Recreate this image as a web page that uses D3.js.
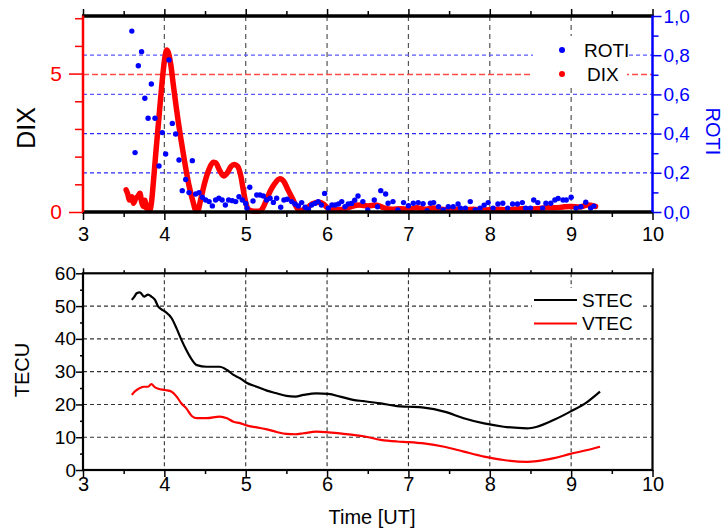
<!DOCTYPE html>
<html><head><meta charset="utf-8">
<script src="https://cdn.jsdelivr.net/npm/d3@7/dist/d3.min.js"></script>
<style>body{margin:0;background:#fff}svg{display:block;font-family:"Liberation Sans",Arial,sans-serif}</style>
</head><body><svg id="c" width="728" height="528"></svg>
<script>
const xTicks = [3,4,5,6,7,8,9,10];
const dixTicks = [0,5];
const rotiTicks = [0,0.2,0.4,0.6,0.8,1.0];
const tecTicks = [0,10,20,30,40,50,60];

const dixT = [3.53,3.55,3.57,3.60,3.62,3.65,3.67,3.70,3.72,3.74,3.76,3.78,3.80,3.82,3.84,3.86,3.88,3.90,3.93,3.96,3.99,4.01,4.03,4.05,4.08,4.11,4.15,4.20,4.25,4.30,4.35,4.39,4.41,4.45,4.50,4.55,4.60,4.63,4.68,4.73,4.77,4.82,4.86,4.90,4.94,4.97,5.00,5.04,5.10,5.16,5.20,5.25,5.30,5.35,5.42,5.47,5.52,5.58,5.63,5.68,5.75,5.82,5.90,5.96,6.02,6.10,6.20,6.30,6.40,6.50,6.60,6.70,6.80,6.90,7.00,7.10,7.20,7.30,7.40,7.50,7.60,7.70,7.80,7.90,8.00,8.10,8.20,8.30,8.40,8.50,8.60,8.70,8.80,8.90,9.00,9.10,9.20,9.30];
const dixV = [0.80,0.65,0.43,0.55,0.32,0.50,0.55,0.68,0.37,0.20,0.42,0.14,0.25,0.07,0.30,0.90,1.60,2.30,3.30,4.30,5.20,5.65,5.85,5.75,5.30,4.60,3.70,2.70,1.80,1.00,0.40,0.05,0.05,0.50,1.10,1.55,1.80,1.78,1.50,1.30,1.40,1.65,1.72,1.65,1.30,0.80,0.35,0.08,0.03,0.03,0.10,0.40,0.75,1.00,1.20,1.10,0.80,0.45,0.15,0.05,0.15,0.30,0.35,0.28,0.12,0.08,0.10,0.20,0.25,0.22,0.25,0.15,0.10,0.12,0.10,0.15,0.10,0.14,0.10,0.08,0.10,0.08,0.10,0.07,0.08,0.10,0.08,0.10,0.12,0.10,0.12,0.15,0.15,0.18,0.20,0.18,0.25,0.20];

const rotiT = [3.60,3.64,3.68,3.72,3.76,3.80,3.84,3.885,3.934,3.975,4.016,4.057,4.098,4.139,4.18,4.22,4.262,4.303,4.344,4.385,4.426,4.467,4.508,4.55,4.59,4.63,4.67,4.71,4.75,4.79,4.835,4.877,4.917,4.958,5.00,5.016,5.05,5.09,5.135,5.175,5.216,5.257,5.30,5.34,5.38,5.43,5.47,5.51,5.565,5.606,5.647,5.688,5.73,5.77,5.81,5.85,5.89,5.93,5.97,6.015,6.06,6.10,6.14,6.18,6.22,6.26,6.30,6.34,6.38,6.44,6.50,6.58,6.62,6.66,6.72,6.75,6.81,6.87,6.94,7.00,7.06,7.12,7.18,7.23,7.27,7.31,7.37,7.43,7.49,7.55,7.61,7.64,7.70,7.76,7.82,7.88,7.93,7.98,8.04,8.10,8.16,8.22,8.28,8.34,8.40,8.44,8.50,8.54,8.59,8.65,8.69,8.75,8.80,8.84,8.90,8.94,9.00,9.06,9.12,9.18,9.24,9.28];
const rotiV = [0.923,0.303,0.746,0.818,0.580,0.478,0.653,0.478,0.235,0.405,0.296,0.776,0.452,0.398,0.265,0.109,0.166,0.099,0.262,0.092,0.099,0.075,0.061,0.053,0.031,0.061,0.070,0.061,0.036,0.061,0.058,0.053,0.078,0.061,0.044,0.019,0.126,0.056,0.087,0.087,0.082,0.061,0.070,0.049,0.070,0.024,0.061,0.065,0.053,0.041,0.031,0.048,0.024,0.014,0.036,0.044,0.053,0.036,0.095,0.019,0.036,0.036,0.041,0.053,0.027,0.041,0.044,0.060,0.082,0.053,0.010,0.061,0.027,0.109,0.092,0.045,0.053,0.010,0.048,0.032,0.045,0.048,0.042,0.006,0.045,0.048,0.027,0.010,0.027,0.027,0.041,0.020,0.020,0.053,0.010,0.020,0.035,0.048,0.020,0.041,0.045,0.020,0.041,0.041,0.048,0.020,0.020,0.061,0.048,0.020,0.045,0.045,0.061,0.069,0.061,0.061,0.075,0.020,0.027,0.05,0.02,0.03];

const tecT = [3.60,3.63,3.66,3.70,3.75,3.80,3.84,3.885,3.925,4.01,4.09,4.15,4.21,4.27,4.34,4.40,4.52,4.68,4.77,4.85,4.93,5.01,5.135,5.26,5.38,5.50,5.61,5.71,5.87,6.015,6.16,6.32,6.45,6.66,6.86,7.00,7.19,7.44,7.68,7.93,8.17,8.46,8.58,8.79,8.99,9.20,9.355];
const stecV = [51.9,52.8,53.9,54.2,52.9,53.5,52.9,51.9,49.8,48.3,46.3,43.2,39.7,36.6,33.6,32.0,31.5,31.5,30.5,29.0,28.0,26.6,25.4,24.2,23.4,22.6,22.4,22.9,23.4,23.2,22.4,21.4,21.0,20.3,19.5,19.3,19.0,17.8,15.8,14.2,13.2,12.7,13.2,15.3,17.8,20.8,23.9];
const vtecV = [22.9,23.8,24.4,25.0,25.4,25.4,26.2,25.2,24.8,24.4,23.9,22.4,20.3,18.8,16.4,15.8,15.8,16.3,15.8,14.7,14.3,13.6,13.0,12.4,11.6,11.0,10.9,11.2,11.7,11.5,11.2,10.7,10.3,9.2,8.7,8.5,8.1,7.1,5.6,4.1,3.05,2.5,2.7,3.6,4.9,6.1,7.1];

const svg = d3.select("#c");
const L = 83, R = 652.5;
const x = d3.scaleLinear().domain([3,10]).range([L,R]);
const T1 = 16, B1 = 212;
const yD = d3.scaleLinear().domain([0,7.08]).range([B1,T1]);
const yR = d3.scaleLinear().domain([0,1]).range([B1,T1]);
const T2 = 273.3, B2 = 470;
const yT = d3.scaleLinear().domain([0,60]).range([B2,T2]);
const halfTicks = d3.range(3,10.01,0.5);

// ---------- TOP PANEL ----------
const g1 = svg.append("g");
g1.selectAll(".vg").data(xTicks.slice(1,-1)).join("line")
  .attr("x1",d=>x(d)).attr("x2",d=>x(d)).attr("y1",T1).attr("y2",B1)
  .attr("stroke","#555").attr("stroke-width",1.2).attr("stroke-dasharray","5,4");
g1.selectAll(".bg").data(rotiTicks.slice(1,-1)).join("line")
  .attr("x1",L).attr("x2",R).attr("y1",d=>yR(d)).attr("y2",d=>yR(d))
  .attr("stroke",d=>d<0.5?"#2a2aff":"#5a5aff").attr("stroke-width",1.3).attr("stroke-dasharray","4,3");
g1.append("line").attr("x1",L).attr("x2",R).attr("y1",Math.round(yD(5))+0.5).attr("y2",Math.round(yD(5))+0.5)
  .attr("stroke","#ff4a4a").attr("stroke-width",1.3).attr("stroke-dasharray","6,3");

g1.append("rect").attr("x",533).attr("y",36).attr("width",94).attr("height",50).attr("fill","#fff");

const dixData = dixT.map((t,i)=>[t,dixV[i]]);
g1.append("path").datum(dixData)
  .attr("d", d3.line().x(d=>x(d[0])).y(d=>yD(d[1])).curve(d3.curveMonotoneX))
  .attr("fill","none").attr("stroke","#ff0000").attr("stroke-width",5.5)
  .attr("stroke-linejoin","round").attr("stroke-linecap","round");
g1.selectAll(".roti").data(rotiT.map((t,i)=>[t,rotiV[i]])).join("circle")
  .attr("cx",d=>x(d[0])).attr("cy",d=>yR(d[1])).attr("r",2.7).attr("fill","#0000ff");

const bx1 = d3.axisBottom(x).tickValues(halfTicks).tickSize(6).tickFormat(d=>Number.isInteger(d)?d:"");
const ax1 = g1.append("g").attr("transform",`translate(0,${B1})`).call(bx1);
ax1.selectAll(".tick line").attr("stroke","#000").attr("stroke-width",1.5).attr("y2",d=>Number.isInteger(d)?8:5);
ax1.selectAll("text").attr("font-size",20).attr("fill","#000").attr("y",29).attr("dy",null);
ax1.select(".domain").remove();
const tx1 = d3.axisTop(x).tickValues(halfTicks).tickSize(6).tickFormat("");
const at1 = g1.append("g").attr("transform",`translate(0,${T1})`).call(tx1);
at1.selectAll(".tick line").attr("stroke","#000").attr("stroke-width",1.5).attr("y2",d=>Number.isInteger(d)?-7:-5);
at1.select(".domain").remove();
g1.append("line").attr("x1",L-1).attr("x2",R+1).attr("y1",B1).attr("y2",B1).attr("stroke","#000").attr("stroke-width",3.5);
g1.append("line").attr("x1",L-1).attr("x2",R+1).attr("y1",T1).attr("y2",T1).attr("stroke","#000").attr("stroke-width",3.5);

const lax = d3.axisLeft(yD).tickValues(d3.range(0,7.01,1)).tickSize(14).tickFormat(d=>dixTicks.includes(d)?d:"");
const al = g1.append("g").attr("transform",`translate(${L},0)`).call(lax);
al.select(".domain").remove();
al.selectAll(".tick line").attr("stroke","#ff0000").attr("stroke-width",1.5).attr("x2",d=>dixTicks.includes(d)?-14:-8);
al.selectAll("text").attr("font-size",21).attr("fill","#ff0000").attr("x",-21);
g1.append("line").attr("x1",L).attr("x2",L).attr("y1",T1-0.5).attr("y2",B1).attr("stroke","#ff0000").attr("stroke-width",2.5);

const rax = d3.axisRight(yR).tickValues(d3.range(0,1.001,0.1)).tickSize(8)
  .tickFormat(d=>{const r=Math.round(d*10); return r%2===0 ? (r/10).toFixed(1).replace(".",",") : "";});
const ar = g1.append("g").attr("transform",`translate(${R},0)`).call(rax);
ar.select(".domain").remove();
ar.selectAll(".tick line").attr("stroke","#0000ff").attr("stroke-width",1.5)
  .attr("x2",d=>Math.round(d*10)%2===0?9:6);
ar.selectAll("text").attr("font-size",19).attr("fill","#0000ff").attr("x",11);
g1.append("line").attr("x1",R).attr("x2",R).attr("y1",T1-0.5).attr("y2",B1).attr("stroke","#0000ff").attr("stroke-width",2.5);

svg.append("text").attr("transform","translate(35,128) rotate(-90)").attr("text-anchor","middle")
  .attr("font-size",25).attr("fill","#000").text("DIX");
svg.append("text").attr("transform","translate(706,131.5) rotate(90)").attr("text-anchor","middle")
  .attr("font-size",20).attr("fill","#0000ff").text("ROTI");

const leg1 = [{t:"ROTI",c:"#0000ff",y:50,tx:584},{t:"DIX",c:"#ff0000",y:74,tx:587}];
leg1.forEach(d=>{
  svg.append("circle").attr("cx",562).attr("cy",d.y).attr("r",3).attr("fill",d.c);
  svg.append("text").attr("x",d.tx).attr("y",d.y).attr("dy","0.36em").attr("font-size",19).attr("fill","#000").text(d.t);
});

// ---------- BOTTOM PANEL ----------
const g2 = svg.append("g");
g2.selectAll(".vg2").data(xTicks.slice(1,-1)).join("line")
  .attr("x1",d=>x(d)).attr("x2",d=>x(d)).attr("y1",T2).attr("y2",B2)
  .attr("stroke","#333").attr("stroke-width",1.1).attr("stroke-dasharray","4,3");
g2.selectAll(".hg2").data(tecTicks.slice(1,-1)).join("line")
  .attr("x1",L).attr("x2",R).attr("y1",d=>yT(d)).attr("y2",d=>yT(d))
  .attr("stroke","#333").attr("stroke-width",1.1).attr("stroke-dasharray","4,3");
g2.append("rect").attr("x",532).attr("y",288).attr("width",110).attr("height",48).attr("fill","#fff");

const lineT = d3.line().x(d=>x(d[0])).y(d=>yT(d[1])).curve(d3.curveMonotoneX);
g2.append("path").datum(tecT.map((t,i)=>[t,stecV[i]])).attr("d",lineT)
  .attr("fill","none").attr("stroke","#000").attr("stroke-width",2.2);
g2.append("path").datum(tecT.map((t,i)=>[t,vtecV[i]])).attr("d",lineT)
  .attr("fill","none").attr("stroke","#ff0000").attr("stroke-width",2.2);

const bx2 = d3.axisBottom(x).tickValues(halfTicks).tickSize(6).tickFormat(d=>Number.isInteger(d)?d:"");
const ab2 = g2.append("g").attr("transform",`translate(0,${B2})`).call(bx2);
ab2.select(".domain").remove();
ab2.selectAll(".tick line").attr("stroke","#000").attr("stroke-width",1.5).attr("y2",d=>Number.isInteger(d)?7:4);
ab2.selectAll("text").attr("font-size",20).attr("fill","#000").attr("y",21).attr("dy",null);
const tx2 = d3.axisTop(x).tickValues(halfTicks).tickSize(5).tickFormat("");
const at2 = g2.append("g").attr("transform",`translate(0,${T2})`).call(tx2);
at2.select(".domain").remove();
at2.selectAll(".tick line").attr("stroke","#000").attr("stroke-width",1.5).attr("y2",d=>Number.isInteger(d)?-5:-3);
const lax2 = d3.axisLeft(yT).tickValues(d3.range(0,60.1,5)).tickSize(6).tickFormat(d=>d%10===0?d:"");
const al2 = g2.append("g").attr("transform",`translate(${L},0)`).call(lax2);
al2.select(".domain").remove();
al2.selectAll(".tick line").attr("stroke","#000").attr("stroke-width",1.5).attr("x2",d=>d%10===0?-7:-3);
al2.selectAll("text").attr("font-size",19).attr("fill","#000").attr("x",-7);
g2.append("rect").attr("x",L).attr("y",T2).attr("width",R-L).attr("height",B2-T2)
  .attr("fill","none").attr("stroke","#000").attr("stroke-width",2.2);

svg.append("text").attr("transform","translate(29,370) rotate(-90)").attr("text-anchor","middle")
  .attr("font-size",20).attr("fill","#000").text("TECU");
svg.append("text").attr("x",372).attr("y",524).attr("text-anchor","middle")
  .attr("font-size",20).attr("fill","#000").text("Time [UT]");

const leg2 = [{t:"STEC",c:"#000",y:300},{t:"VTEC",c:"#ff0000",y:323.5}];
leg2.forEach(d=>{
  svg.append("line").attr("x1",534).attr("x2",577).attr("y1",d.y).attr("y2",d.y).attr("stroke",d.c).attr("stroke-width",2.2);
  svg.append("text").attr("x",582).attr("y",d.y).attr("dy","0.36em").attr("font-size",19).attr("fill","#000").text(d.t);
});
</script></body></html>
